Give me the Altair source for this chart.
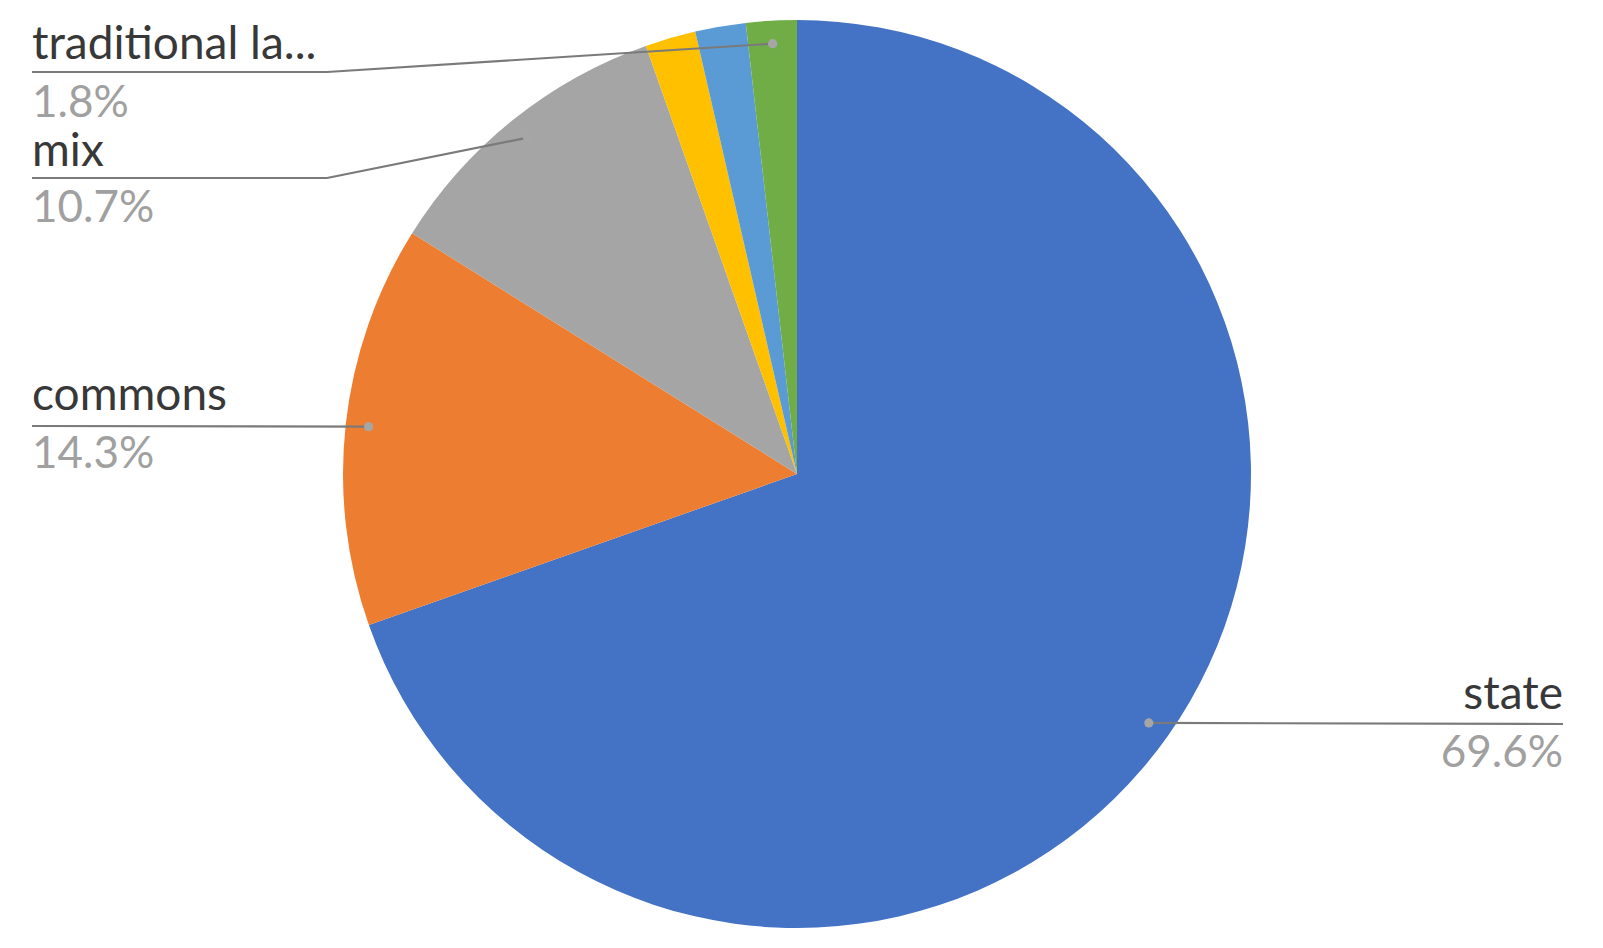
import altair as alt
import pandas as pd

# ---- data ----
categories = ["state", "commons", "mix", "private", "other", "traditional la..."]
values = [69.6, 14.3, 10.7, 1.8, 1.8, 1.8]
colors = ["#4472C4", "#ED7D31", "#A5A5A5", "#FFC000", "#5B9BD5", "#70AD47"]
shown = [1, 1, 1, 0, 0, 1]

# ---- label layout (pixels in chart space) ----
anchor_x = [1555, 24, 24, 0, 0, 24]
name_y = [701, 402, 158, 0, 0, 51]
pct_y = [759, 460, 214, 0, 0, 109]
line_y = [716, 418, 170, 0, 0, 64]
elbow_x = [1555, 24, 319, 0, 0, 319]
align = ["right", "left", "left", "left", "left", "left"]

CX, CY, R = 789, 466, 454
DOT_R = 431

df = pd.DataFrame({
    "idx": list(range(len(categories))),
    "category": categories,
    "value": values,
    "shown": shown,
    "ax": anchor_x,
    "ny": name_y,
    "py": pct_y,
    "ly": line_y,
    "ex": elbow_x,
    "align": align,
})

base = alt.Chart(df)

arc = base.mark_arc(outerRadius=R).encode(
    theta=alt.Theta("value:Q", stack=True),
    color=alt.Color("category:N", scale=alt.Scale(domain=categories, range=colors), legend=None),
    order=alt.Order("idx:Q"),
    x=alt.value(CX),
    y=alt.value(CY),
)

calc = base.transform_window(
    cum="sum(value)", sort=[alt.SortField("idx")], frame=[None, 0]
).transform_joinaggregate(
    total="sum(value)"
).transform_calculate(
    mid="2*PI*(datum.cum - datum.value/2)/datum.total",
    pct="format(datum.value/datum.total, '.1%')",
).transform_calculate(
    dx=f"{CX} + {DOT_R}*sin(datum.mid)",
    dy=f"{CY} - {DOT_R}*cos(datum.mid)",
).transform_filter("datum.shown == 1")

LINE = "#7A7A7A"
seg1 = calc.mark_rule(color=LINE, strokeWidth=2.2).encode(
    x=alt.X("dx:Q", scale=None), y=alt.Y("dy:Q", scale=None),
    x2="ex:Q", y2="ly:Q",
)
seg2 = calc.mark_rule(color=LINE, strokeWidth=2.2).encode(
    x=alt.X("ex:Q", scale=None), y=alt.Y("ly:Q", scale=None),
    x2="ax:Q", y2="ly:Q",
)
dots = calc.mark_circle(color="#A6A6A6", opacity=1, size=85).encode(
    x=alt.X("dx:Q", scale=None), y=alt.Y("dy:Q", scale=None),
)

FONT = "Lato"
texts = []
for al in ["left", "right"]:
    sub = calc.transform_filter(f"datum.align == '{al}'")
    texts.append(sub.mark_text(align=al, baseline="alphabetic", font=FONT, fontSize=46, color="#383838").encode(
        x=alt.X("ax:Q", scale=None), y=alt.Y("ny:Q", scale=None), text="category:N"))
    texts.append(sub.mark_text(align=al, baseline="alphabetic", font=FONT, fontSize=44, color="#A0A0A0").encode(
        x=alt.X("ax:Q", scale=None), y=alt.Y("py:Q", scale=None), text="pct:N"))

chart = alt.layer(arc, seg1, seg2, dots, *texts).properties(
    width=1580, height=925, padding=0,
    autosize=alt.AutoSizeParams(type="none"),
).configure_view(strokeWidth=0)

chart.save("out.html", embed_options={"renderer": "svg", "actions": False})
